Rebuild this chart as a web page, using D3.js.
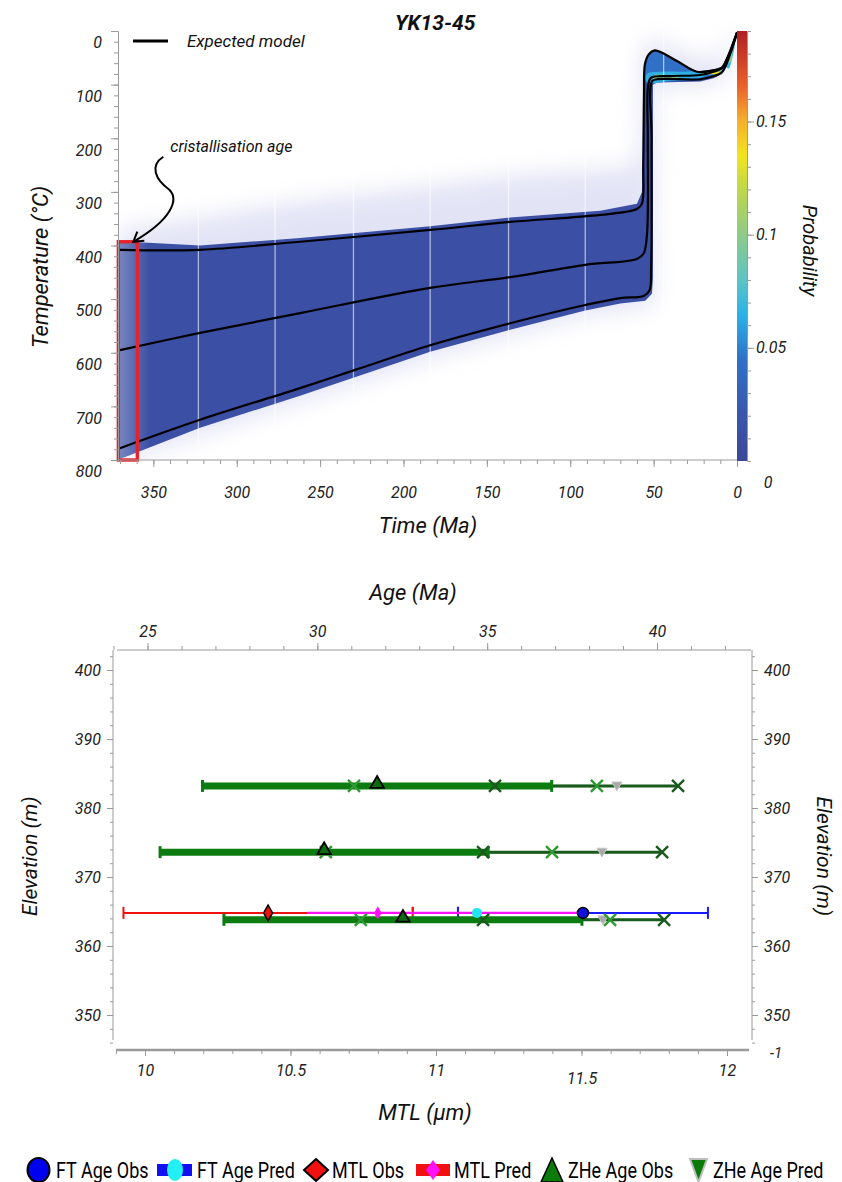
<!DOCTYPE html>
<html><head><meta charset="utf-8">
<script src="https://cdn.jsdelivr.net/npm/d3@7"></script>
<style>
body{margin:0;background:#fff;}
svg text{font-family:Roboto,"Open Sans",sans-serif;}
</style></head><body>
<svg id="c" width="842" height="1182"></svg>
<script>
// ================= DATA =================
const sampleName = "YK13-45";
// --- thermal history (top panel) ---
const timeTicks = [350,300,250,200,150,100,50,0];
const tempTicks = [0,100,200,300,400,500,600,700,800];
const probTicks = [0.05,0.1,0.15];
const probStops  = [0, 0.02, 0.045, 0.065, 0.08, 0.1, 0.12, 0.135, 0.15, 0.165, 0.19];
const probColors = ["#3b479a","#3a56ab","#2f72c8","#2cb2e8","#5cc4c4","#8fca88","#bfd74a","#f2e51e","#f5b02c","#ea642c","#b01f22"];
// expected model: [time Ma, temperature °C]
const modelUpper  = [[370,408],[322,408],[262,393],[184,371],[136,356],[82,343],[60,332],[57,322],[56.2,250],[55.8,120],[55.2,62],[53,44],[49.2,36],[36,56],[24,76],[14,73],[9,68],[4,36],[0,2]];
const modelMiddle = [[370,595],[322,563],[262,526],[184,479],[136,459],[91,436],[60,425],[56,415],[54,380],[53.5,200],[53.3,102],[51.5,87],[40,84],[22,82],[14,76],[9,69],[4,38],[0,3]];
const modelLower  = [[370,778],[322,725],[262,666],[229,632],[184,586],[136,545],[91,511],[70,498],[56,494],[52.5,484],[51.5,440],[51.2,200],[51,94],[48,90],[22,90],[14,84],[9,77],[4,42],[0,4]];
// probability cloud envelopes [time, temperature]
const haloTop    = [[370,370],[330,352],[262,318],[184,288],[136,270],[82,258],[62,255],[58,200],[57,60],[55,20],[46,20],[30,45],[14,55],[6,28],[0,0]];
const haloBottom = [[0,8],[8,90],[22,102],[49.5,104],[49.8,400],[50,508],[55,515],[91,530],[136,568],[184,610],[262,692],[322,754],[370,800]];
const cloudTop    = [[370,392],[322,400],[262,386],[184,364],[136,348],[82,335],[60,322],[57,300],[56.3,150],[55.6,60],[53,42],[49.2,36],[36,56],[24,75],[14,72],[9,66],[4,34],[0,2]];
const cloudBottom = [[0,5],[4,44],[9,80],[14,88],[22,94],[48,96],[50.4,100],[50.4,460],[51,490],[55,503],[70,508],[91,521],[136,557],[184,598],[262,680],[322,740],[370,798]];
// higher-probability patches near the present: p value + polygon [time, temperature]
const densityPatches = [
  {p:0.045, pts:[[55.2,62],[53,44],[49.2,38],[36,58],[24,76],[14,73],[9,67],[4,36],[0.5,4],[2,30],[6,60],[10,80],[16,86],[24,92],[40,94],[50,97],[53.5,98],[55,90]]},
  {p:0.066, pts:[[54,80],[44,76],[34,76],[24,75],[18,77],[20,85],[28,90],[40,93],[54,96]]},
  {p:0.066, pts:[[7,64],[5,44],[3,22],[1.2,10],[1.5,30],[3,52],[5,70]]},
  {p:0.1,   pts:[[50,83],[42,82],[35,83],[35,88],[42,89],[50,90]]},
  {p:0.1,   pts:[[21,76],[15,74],[9,74],[9,81],[15,81],[21,80]]},
  {p:0.1,   pts:[[5.5,58],[4,40],[2.5,24],[2.8,42],[4.2,60]]},
  {p:0.135, pts:[[17,76.5],[14,76],[11,76.5],[11,79.5],[14,80],[17,79.5]]}
];
const nodeTimes = [323,277,230,184,137,91,44];        // white vertical lines in the cloud
const crystAge = [371,359.6];                           // crystallisation window (Ma)
const crystTemp = [393,800];                            // its temperature span (°C)

// --- data fit (bottom panel) ---
const ageTicks = [25,30,35,40];
const mtlTicks = [10,10.5,11,11.5,12];
const elevTicks = [350,360,370,380,390,400];
// ZHe per row
const zheElev  = [383.2, 373.6, 363.8];
const zheObs   = [31.76, 30.20, 32.52];
const zheErr   = [5.14, 4.83, 5.27];
const zhePred  = [38.82, 38.38, 38.41];
const zheLightX = [[31.08,38.23],[30.25,36.91],[31.28,38.62]];
const zheDarkX  = [[35.23,40.62],[34.88,40.15],[34.88,40.21]];
// AFT
const ftElev = [364.8];
const ftObs  = [37.82];
const ftErr  = [3.68];
const ftPred = [34.70];
// MTL
const mtlObs = [10.423];
const mtlErr = [0.497];
const mtlPred = [10.80];
const mtlPredRange = [[10.557, 11.495]];
const legendLabels = ["FT Age Obs","FT Age Pred","MTL Obs","MTL Pred","ZHe Age Obs","ZHe Age Pred"];

// ================= DRAW =================
const svg = d3.select("#c");
const FONT = "Roboto,'Open Sans',sans-serif";
const AX = "#9a9a9a";

// ---------- TOP PANEL ----------
const xT = d3.scaleLinear().domain([370,0]).range([120,737]);
const yT = d3.scaleLinear().domain([0,800]).range([31,460]);
const cS = d3.scaleLinear().domain([0,0.19]).range([461,31]);
const probColor = d3.scaleLinear().domain(probStops).range(probColors).clamp(true);

const defs = svg.append("defs");
const cg = defs.append("linearGradient").attr("id","cbar").attr("x1",0).attr("y1",1).attr("x2",0).attr("y2",0);
probStops.forEach((s,i)=>cg.append("stop").attr("offset",s/0.19).attr("stop-color",probColors[i]));
const fade = defs.append("linearGradient").attr("id","fade").attr("gradientUnits","userSpaceOnUse")
  .attr("x1",xT(370)).attr("x2",xT(352)).attr("y1",0).attr("y2",0);
fade.append("stop").attr("offset",0).attr("stop-color","#fff").attr("stop-opacity",0.3);
fade.append("stop").attr("offset",1).attr("stop-color","#fff").attr("stop-opacity",0);
defs.append("clipPath").attr("id","cloudclip").append("path");
defs.append("clipPath").attr("id","plotclip").append("rect").attr("x",119).attr("y",20).attr("width",618).attr("height",440);
defs.append("filter").attr("id","blur").attr("x","-10%").attr("y","-20%").attr("width","120%").attr("height","140%")
  .append("feGaussianBlur").attr("stdDeviation",11);
defs.append("filter").attr("id","soft").append("feGaussianBlur").attr("stdDeviation",0.7);

const topG = svg.append("g");
const polyLin = d3.line().x(d=>xT(d[0])).y(d=>yT(d[1])).curve(d3.curveLinearClosed);
const polyRound = d3.line().x(d=>xT(d[0])).y(d=>yT(d[1])).curve(d3.curveCatmullRomClosed.alpha(0.5));
const lineGen = d3.line().x(d=>xT(d[0])).y(d=>yT(d[1])).curve(d3.curveCatmullRom.alpha(0.5));

// halo (diffuse)
topG.append("g").attr("clip-path","url(#plotclip)").append("path").attr("d",polyLin(haloTop.concat(haloBottom)))
  .attr("fill","#c6c9ec").attr("opacity",0.5).attr("filter","url(#blur)");
// main cloud
const cloudPts = cloudTop.concat(cloudBottom);
topG.append("g").attr("clip-path","url(#plotclip)").append("path").attr("d",polyLin(cloudPts))
  .attr("fill",probColor(0.012)).attr("filter","url(#soft)");
d3.select("#cloudclip path").attr("d",polyLin(cloudPts));
// lighter early part
topG.append("rect").attr("x",xT(370)).attr("y",yT(370)).attr("width",xT(350)-xT(370)).attr("height",yT(800)-yT(370))
  .attr("fill","url(#fade)").attr("clip-path","url(#cloudclip)");
// high probability patches
densityPatches.forEach(d=>{
  topG.append("path").attr("d",polyRound(d.pts)).attr("fill",probColor(d.p)).attr("opacity",0.95);
});
// white node lines
topG.selectAll(".node").data(nodeTimes).join("line")
  .attr("x1",d=>xT(d)).attr("x2",d=>xT(d)).attr("y1",yT(0)).attr("y2",yT(800))
  .attr("stroke","#fff").attr("stroke-width",1.3).attr("opacity",0.6);
// expected model lines
[modelUpper,modelMiddle,modelLower].forEach(l=>{
  topG.append("path").attr("d",lineGen(l)).attr("fill","none").attr("stroke","#000").attr("stroke-width",2.2);
});
// crystallisation box
topG.append("rect").attr("x",xT(crystAge[0])).attr("y",yT(crystTemp[0]))
  .attr("width",xT(crystAge[1])-xT(crystAge[0])).attr("height",yT(crystTemp[1])-yT(crystTemp[0]))
  .attr("fill","none").attr("stroke","#e8222a").attr("stroke-width",3.4);

// axes (top)
const axLeftX = 118;
const yMinor = d3.axisLeft(yT).tickValues(d3.range(0,801,20)).tickSize(4).tickFormat("");
const yMajor = d3.axisLeft(yT).tickValues(tempTicks).tickSize(7).tickPadding(9).tickFormat(d3.format("d"));
const gy1 = topG.append("g").attr("transform",`translate(${axLeftX},0)`).call(yMinor);
const gy2 = topG.append("g").attr("transform",`translate(${axLeftX},0)`).call(yMajor);
gy2.select(".domain").remove();
gy2.selectAll("text").attr("dy","1.05em");
const xMinor = d3.axisBottom(xT).tickValues(d3.range(370,-1,-10)).tickSize(4).tickFormat("");
const xMajor = d3.axisBottom(xT).tickValues(timeTicks).tickSize(7).tickPadding(20).tickFormat(d3.format("d"));
const gx1 = topG.append("g").attr("transform",`translate(0,460)`).call(xMinor);
gx1.select(".domain").attr("d",`M${axLeftX},0H${xT(0)}`);
const gx2 = topG.append("g").attr("transform",`translate(0,460)`).call(xMajor);
gx2.select(".domain").remove();
[gy1,gy2,gx1,gx2].forEach(g=>{
  g.selectAll("line").attr("stroke",AX);
  g.selectAll(".domain").attr("stroke",AX);
  g.selectAll("text").attr("font-family",FONT).attr("font-style","italic").attr("font-size",16).attr("fill","#222");
});
// colorbar
topG.append("rect").attr("x",737).attr("y",cS(0.19)).attr("width",10).attr("height",cS(0)-cS(0.19)).attr("fill","url(#cbar)");
const cMinor = d3.axisRight(cS).tickValues(d3.range(0.01,0.19,0.01)).tickSize(4).tickFormat("");
const cMajor = d3.axisRight(cS).tickValues(probTicks).tickSize(7).tickPadding(2).tickFormat(d=>d3.format("")(+d.toFixed(2)));
const gc1 = topG.append("g").attr("transform","translate(747,0)").call(cMinor);
const gc2 = topG.append("g").attr("transform","translate(747,0)").call(cMajor);
gc1.select(".domain").attr("stroke",AX);
gc2.select(".domain").remove();
[gc1,gc2].forEach(g=>{
  g.selectAll("line").attr("stroke",AX);
  g.selectAll("text").attr("font-family",FONT).attr("font-style","italic").attr("font-size",16).attr("fill","#222");
});
topG.append("text").attr("x",768).attr("y",cS(0)+27).attr("text-anchor","middle")
  .attr("font-family",FONT).attr("font-style","italic").attr("font-size",16).attr("fill","#222").text("0");
// titles
topG.append("text").attr("transform",`translate(48,${yT(440)}) rotate(-90)`).attr("text-anchor","middle")
  .attr("font-family",FONT).attr("font-style","italic").attr("font-size",22).attr("fill","#111").text("Temperature (°C)");
topG.append("text").attr("x",428).attr("y",533).attr("text-anchor","middle")
  .attr("font-family",FONT).attr("font-style","italic").attr("font-size",22).attr("fill","#111").text("Time (Ma)");
topG.append("text").attr("transform",`translate(803,${cS(0.093)}) rotate(90)`).attr("text-anchor","middle")
  .attr("font-family",FONT).attr("font-style","italic").attr("font-size",20).attr("fill","#111").text("Probability");
topG.append("text").attr("x",395).attr("y",30).attr("font-family",FONT).attr("font-style","italic").attr("font-weight",700)
  .attr("font-size",21).attr("fill","#111").text(sampleName);
// legend expected model
topG.append("line").attr("x1",133).attr("x2",168).attr("y1",41).attr("y2",41).attr("stroke","#000").attr("stroke-width",3.2);
topG.append("text").attr("x",187).attr("y",47).attr("font-family",FONT).attr("font-style","italic").attr("font-size",17)
  .attr("fill","#111").text("Expected model");
// annotation
const tipX = xT(crystAge[0]) + 15, tipY = yT(crystTemp[0]);
topG.append("text").attr("x",tipX+37).attr("y",tipY-90).attr("font-family",FONT).attr("font-style","italic")
  .attr("font-size",16).attr("fill","#111").text("cristallisation age");
topG.append("path")
  .attr("d",`M${tipX+30},${tipY-85} C${tipX+16},${tipY-76} ${tipX+22},${tipY-62} ${tipX+36},${tipY-52} C${tipX+46},${tipY-42} ${tipX+38},${tipY-22} ${tipX},${tipY}`)
  .attr("fill","none").attr("stroke","#000").attr("stroke-width",2);
topG.append("path").attr("d",`M${tipX+11},${tipY-1} L${tipX},${tipY} L${tipX+4},${tipY-10}`)
  .attr("fill","none").attr("stroke","#000").attr("stroke-width",2);

// ---------- BOTTOM PANEL ----------
const xAge = d3.scaleLinear().domain([25,40]).range([147.5,657]);
const xMTL = d3.scaleLinear().domain([10,12]).range([145,727]);
const yE = d3.scaleLinear().domain([370,380]).range([877,808]);
const bot = svg.append("g");
const LX = 113, RX = 752, TY = 650, BY = 1050;

// axes
const eMinor = d3.axisLeft(yE).tickValues(d3.range(346,403,2)).tickSize(3).tickFormat("");
const eMajor = d3.axisLeft(yE).tickValues(elevTicks).tickSize(6).tickPadding(6).tickFormat(d3.format("d"));
const ge1 = bot.append("g").attr("transform",`translate(${LX},0)`).call(eMinor);
ge1.select(".domain").attr("d",`M0,${TY}V${BY-10}`);
const ge2 = bot.append("g").attr("transform",`translate(${LX},0)`).call(eMajor);
ge2.select(".domain").remove();
const erMinor = d3.axisRight(yE).tickValues(d3.range(346,403,2)).tickSize(3).tickFormat("");
const erMajor = d3.axisRight(yE).tickValues(elevTicks).tickSize(6).tickPadding(6).tickFormat(d3.format("d"));
const ger1 = bot.append("g").attr("transform",`translate(${RX},0)`).call(erMinor);
ger1.select(".domain").attr("d",`M0,${TY}V${BY-10}`);
const ger2 = bot.append("g").attr("transform",`translate(${RX},0)`).call(erMajor);
ger2.select(".domain").remove();
const aMinor = d3.axisTop(xAge).tickValues(d3.range(24,43,1)).tickSize(4).tickFormat("");
const aMajor = d3.axisTop(xAge).tickValues(ageTicks).tickSize(7).tickPadding(6).tickFormat(d3.format("d"));
const ga1 = bot.append("g").attr("transform",`translate(0,${TY})`).call(aMinor);
ga1.select(".domain").attr("d",`M117,0H751`);
const ga2 = bot.append("g").attr("transform",`translate(0,${TY})`).call(aMajor);
ga2.select(".domain").remove();
const mMinor = d3.axisBottom(xMTL).tickValues(d3.range(9.9,12.05,0.1)).tickSize(4).tickFormat("");
const mMajor = d3.axisBottom(xMTL).tickValues(mtlTicks).tickSize(6).tickPadding(9).tickFormat(d=>d3.format("")(d));
const gm1 = bot.append("g").attr("transform",`translate(0,${BY})`).call(mMinor);
gm1.select(".domain").attr("d",`M116,0H749`).attr("stroke-width",2.5);
const gm2 = bot.append("g").attr("transform",`translate(0,${BY})`).call(mMajor);
gm2.select(".domain").remove();
gm2.selectAll("text").filter(d=>d===11.5).attr("dy","1.2em");
[ge1,ge2,ger1,ger2,ga1,ga2,gm1,gm2].forEach(g=>{
  g.selectAll("line").attr("stroke",AX);
  g.selectAll(".domain").attr("stroke",AX);
  g.selectAll("text").attr("font-family",FONT).attr("font-style","italic").attr("font-size",16).attr("fill","#222");
});
bot.append("text").attr("x",RX+24).attr("y",BY+8).attr("text-anchor","middle").attr("font-family",FONT)
  .attr("font-style","italic").attr("font-size",15).attr("fill","#222").text("-1");
// titles
const tstyle = s=>s.attr("font-family",FONT).attr("font-style","italic").attr("fill","#111");
tstyle(bot.append("text").attr("x",413).attr("y",600).attr("text-anchor","middle").attr("font-size",22).text("Age (Ma)"));
tstyle(bot.append("text").attr("x",425).attr("y",1120).attr("text-anchor","middle").attr("font-size",22).text("MTL (µm)"));
tstyle(bot.append("text").attr("transform",`translate(37,${yE(373)}) rotate(-90)`).attr("text-anchor","middle").attr("font-size",21).text("Elevation (m)"));
tstyle(bot.append("text").attr("transform",`translate(817,${yE(373)}) rotate(90)`).attr("text-anchor","middle").attr("font-size",21).text("Elevation (m)"));

// symbols
const xMark = (g,x,y,c)=>g.append("path").attr("d",`M${x-6},${y-6}L${x+6},${y+6}M${x-6},${y+6}L${x+6},${y-6}`)
  .attr("stroke",c).attr("stroke-width",2.4).attr("fill","none");
const GREEN = "#0c7c10", LIGHTG = "#2f9a33", DARKG = "#1b5a1e";

// FT obs bar (blue)
ftElev.forEach((e,i)=>{
  const y = yE(e);
  bot.append("line").attr("x1",xAge(ftObs[i]-ftErr[i])).attr("x2",xAge(ftObs[i]+ftErr[i])).attr("y1",y).attr("y2",y)
    .attr("stroke","#1a1aff").attr("stroke-width",2);
  [ftObs[i]-ftErr[i],ftObs[i]+ftErr[i]].forEach(v=>bot.append("line").attr("x1",xAge(v)).attr("x2",xAge(v))
    .attr("y1",y-6).attr("y2",y+6).attr("stroke","#1a1aff").attr("stroke-width",2));
});
// MTL obs bar (red)
mtlObs.forEach((m,i)=>{
  const y = yE(ftElev[i]);
  bot.append("line").attr("x1",xMTL(m-mtlErr[i])).attr("x2",xMTL(m+mtlErr[i])).attr("y1",y).attr("y2",y)
    .attr("stroke","#f01010").attr("stroke-width",2);
  [m-mtlErr[i],m+mtlErr[i]].forEach(v=>bot.append("line").attr("x1",xMTL(v)).attr("x2",xMTL(v))
    .attr("y1",y-6).attr("y2",y+6).attr("stroke","#f01010").attr("stroke-width",2));
  // pred range (magenta)
  bot.append("line").attr("x1",xMTL(mtlPredRange[i][0])).attr("x2",xMTL(mtlPredRange[i][1])).attr("y1",y).attr("y2",y)
    .attr("stroke","#ff10ff").attr("stroke-width",2.2);
  bot.append("line").attr("x1",xMTL(m+mtlErr[i])).attr("x2",xMTL(m+mtlErr[i])).attr("y1",y-6).attr("y2",y-1.5)
    .attr("stroke","#f01010").attr("stroke-width",2);
  bot.append("line").attr("x1",xAge(ftObs[i]-ftErr[i])).attr("x2",xAge(ftObs[i]-ftErr[i])).attr("y1",y-6).attr("y2",y-1.5)
    .attr("stroke","#1a1aff").attr("stroke-width",2);
});
// ZHe rows
zheElev.forEach((e,i)=>{
  const y = yE(e);
  const lo = zheObs[i]-zheErr[i], hi = zheObs[i]+zheErr[i];
  bot.append("line").attr("x1",xAge(zheLightX[i][0])).attr("x2",xAge(zheLightX[i][1])).attr("y1",y).attr("y2",y)
    .attr("stroke",LIGHTG).attr("stroke-width",2.5);
  bot.append("line").attr("x1",xAge(zheDarkX[i][0])).attr("x2",xAge(zheDarkX[i][1])).attr("y1",y).attr("y2",y)
    .attr("stroke",DARKG).attr("stroke-width",3);
  bot.append("line").attr("x1",xAge(lo)).attr("x2",xAge(hi)).attr("y1",y).attr("y2",y)
    .attr("stroke",GREEN).attr("stroke-width",7);
  [lo,hi].forEach(v=>bot.append("line").attr("x1",xAge(v)).attr("x2",xAge(v)).attr("y1",y-6).attr("y2",y+6)
    .attr("stroke",GREEN).attr("stroke-width",3));
  // pred (grey down triangle)
  bot.append("path").attr("d",d3.symbol(d3.symbolTriangle,45)()).attr("transform",`translate(${xAge(zhePred[i])},${y-1}) rotate(180)`)
    .attr("fill","#a9a9a9").attr("stroke","#c8c8c8").attr("stroke-width",1);
  zheLightX[i].forEach(v=>xMark(bot,xAge(v),y,LIGHTG));
  zheDarkX[i].forEach(v=>xMark(bot,xAge(v),y,DARKG));
  bot.append("path").attr("d",d3.symbol(d3.symbolTriangle,80)()).attr("transform",`translate(${xAge(zheObs[i])},${y-2})`)
    .attr("fill","#0c6a10").attr("stroke","#000").attr("stroke-width",1.8);
});
// FT / MTL markers
ftElev.forEach((e,i)=>{
  const y = yE(e);
  bot.append("path").attr("d",d3.symbol(d3.symbolDiamond,70)()).attr("transform",`translate(${xMTL(mtlObs[i])},${y})`)
    .attr("fill","#f01010").attr("stroke","#000").attr("stroke-width",1.5);
  bot.append("path").attr("d",d3.symbol(d3.symbolDiamond,50)()).attr("transform",`translate(${xMTL(mtlPred[i])},${y})`)
    .attr("fill","#ff10ff");
  bot.append("circle").attr("cx",xAge(ftPred[i])).attr("cy",y).attr("r",5).attr("fill","#22e5f0");
  bot.append("circle").attr("cx",xAge(ftObs[i])).attr("cy",y).attr("r",5.5).attr("fill","#1010e0").attr("stroke","#000").attr("stroke-width",1.5);
});

// legend
const lg = svg.append("g").attr("transform","translate(0,1170)");
const ltext = (x,t)=>lg.append("text").attr("x",x).attr("y",0).attr("dy","0.36em")
  .attr("font-family","'Liberation Sans',Arial,sans-serif").attr("font-size",18).attr("fill","#000")
  .attr("transform",`translate(${x},0) scale(1,1.2) translate(${-x},0)`).text(t);
lg.append("ellipse").attr("cx",38.5).attr("cy",0).attr("rx",11).attr("ry",12).attr("fill","#0000f0").attr("stroke","#000").attr("stroke-width",2);
ltext(56,legendLabels[0]);
lg.append("rect").attr("x",157).attr("y",-6).attr("width",35).attr("height",12).attr("fill","#1010f0");
lg.append("ellipse").attr("cx",175).attr("cy",0).attr("rx",8).attr("ry",11).attr("fill","#22f0f5");
ltext(197,legendLabels[1]);
lg.append("path").attr("d","M316,-11L328,0L316,11L304,0Z").attr("fill","#f01010").attr("stroke","#000").attr("stroke-width",2);
ltext(332,legendLabels[2]);
lg.append("rect").attr("x",416).attr("y",-6).attr("width",34).attr("height",12).attr("fill","#f01010");
lg.append("path").attr("d","M433,-10L440,0L433,10L426,0Z").attr("fill","#ff10ff");
ltext(454,legendLabels[3]);
lg.append("path").attr("d","M552,-12L563,12L541,12Z").attr("fill","#0a7a0a").attr("stroke","#000").attr("stroke-width",1.5);
ltext(568,legendLabels[4]);
lg.append("path").attr("d","M690,-11L707,-11L698.5,12Z").attr("fill","#0a7a0a").attr("stroke","#bdbdbd").attr("stroke-width",2);
ltext(713,legendLabels[5]);
</script>
</body></html>
